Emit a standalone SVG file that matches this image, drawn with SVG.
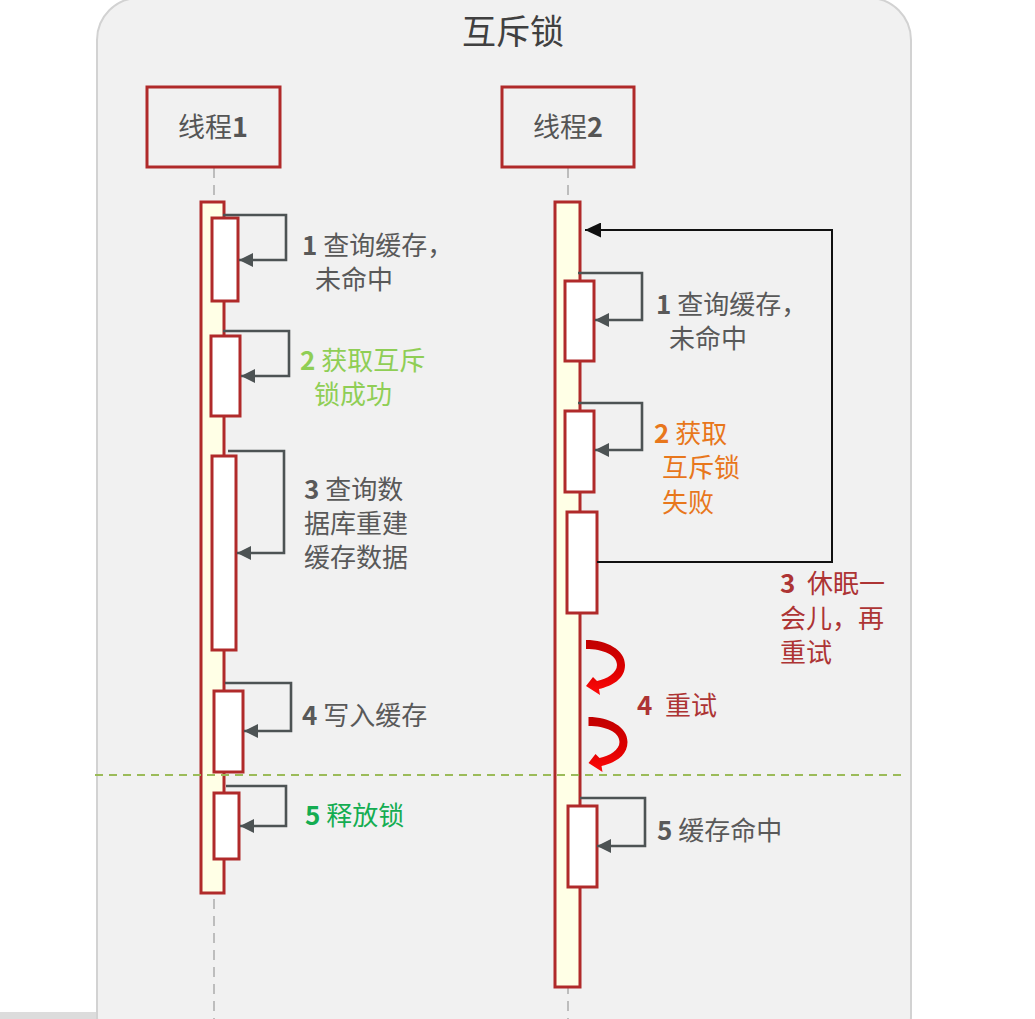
<svg xmlns="http://www.w3.org/2000/svg" width="1035" height="1019" viewBox="0 0 1035 1019">
<style>
text{font-family:"Noto Sans CJK SC","Noto Sans",sans-serif;font-size:26px;fill:#595959}
.d{font-weight:bold}
.title{font-size:34px;fill:#404040}
.name{font-size:27px;fill:#555}
.box{fill:#f1f1f1;stroke:#b02a2a;stroke-width:3}
.life{stroke:#bdbdbd;stroke-width:2;stroke-dasharray:10 7;fill:none}
.bar{fill:#ffffe6;stroke:#b02a2a;stroke-width:3}
.act{fill:#fff;stroke:#b02a2a;stroke-width:3}
.self{fill:none;stroke:#4d5354;stroke-width:2.6}
.ret{fill:none;stroke:#111;stroke-width:2}
.green1{fill:#8fce55}
.green2{fill:#14ad52}
.orange{fill:#e8771c}
.red{fill:#ad3434}
</style>
<defs>
<marker id="ah" viewBox="0 0 14 14" refX="14" refY="7" markerWidth="14" markerHeight="14" markerUnits="userSpaceOnUse" orient="auto">
<path d="M0,0 L14,7 L0,14 Z" fill="#4d5354"/>
</marker>
<marker id="ahb" viewBox="0 0 16 15" refX="16" refY="7.5" markerWidth="16" markerHeight="15" markerUnits="userSpaceOnUse" orient="auto">
<path d="M0,0 L16,7.5 L0,15 Z" fill="#111"/>
</marker>
<linearGradient id="rg" x1="0" y1="0" x2="0" y2="1">
<stop offset="0" stop-color="#c00000"/>
<stop offset="0.6" stop-color="#e00000"/>
<stop offset="1" stop-color="#ff0a0a"/>
</linearGradient>
<path id="curl" d="M586,640 C607,640 625,650 625,665 C625,679 612,686 599,689 L600,695 L586,686 L593,677 L597,681 C607,679 617,673 617,665 C617,655 603,649 586,649 Z" fill="url(#rg)"/>
</defs>

<g id="background">
<rect x="-10" y="1012" width="395" height="20" rx="8" fill="#dcdcdc"/>
<rect x="97" y="-2" width="814" height="1060" rx="42" fill="#f1f1f1" stroke="#d2d2d2" stroke-width="2"/>
<text class="title" x="513" y="44" text-anchor="middle">互斥锁</text>
</g>

<g id="lifelines">
<line class="life" x1="214" y1="168" x2="214" y2="1019"/>
<line class="life" x1="568" y1="168" x2="568" y2="1019"/>
</g>

<g id="thread1">
<rect class="box" x="147" y="87" width="133" height="80"/>
<text class="name" x="213" y="137" text-anchor="middle">线程<tspan class="d">1</tspan></text>
</g>
<g id="thread2">
<rect class="box" x="502" y="87" width="132" height="80"/>
<text class="name" x="568" y="137" text-anchor="middle">线程<tspan class="d">2</tspan></text>
</g>

<g id="bar1"><rect class="bar" x="201" y="202" width="23" height="691"/></g>
<g id="bar2"><rect class="bar" x="555" y="202" width="25" height="785"/></g>

<g id="divider">
<line x1="95" y1="775" x2="904" y2="775" stroke="#9bbb59" stroke-width="2" stroke-dasharray="8 6"/>
</g>

<g id="t1-step1">
<rect class="act" x="212" y="218" width="26" height="83"/>
<text x="302" y="254.5"><tspan class="d">1</tspan> 查询缓存，<tspan x="315" dy="34">未命中</tspan></text>
</g>
<g id="t1-step2">
<rect class="act" x="211" y="336" width="29" height="80"/>
<text class="green1" x="300" y="369.5"><tspan class="d">2</tspan> 获取互斥<tspan x="314" dy="34">锁成功</tspan></text>
</g>
<g id="t1-step3">
<rect class="act" x="212" y="456" width="24" height="194"/>
<text x="304" y="499"><tspan class="d">3</tspan> 查询数<tspan x="304" dy="34">据库重建</tspan><tspan x="304" dy="34">缓存数据</tspan></text>
</g>
<g id="t1-step4">
<rect class="act" x="214" y="691" width="29" height="81"/>
<text x="302" y="725"><tspan class="d">4</tspan> 写入缓存</text>
</g>
<g id="t1-step5">
<rect class="act" x="214" y="793" width="25" height="66"/>
<text class="green2" x="305" y="825"><tspan class="d">5</tspan> 释放锁</text>
</g>

<g id="t2-step1">
<rect class="act" x="565" y="281" width="29" height="80"/>
<text x="656" y="313.5"><tspan class="d">1</tspan> 查询缓存，<tspan x="669" dy="34">未命中</tspan></text>
</g>
<g id="t2-step2">
<rect class="act" x="565" y="411" width="29" height="81"/>
<text class="orange" x="654" y="443"><tspan class="d">2</tspan> 获取<tspan x="662" dy="34">互斥锁</tspan><tspan x="662" dy="35">失败</tspan></text>
</g>
<g id="t2-step3">
<rect class="act" x="567" y="512" width="30" height="101"/>
<text class="red" x="780" y="593"><tspan class="d">3</tspan><tspan x="807">休眠一</tspan><tspan x="780" dy="35">会儿，再</tspan><tspan x="780" dy="34">重试</tspan></text>
</g>
<g id="t2-step4">
<text class="red" x="637" y="715"><tspan class="d">4</tspan><tspan x="665">重试</tspan></text>
</g>
<g id="t2-step5">
<rect class="act" x="568" y="806" width="29" height="81"/>
<text x="657" y="840"><tspan class="d">5</tspan> 缓存命中</text>
</g>

<g id="connectors">
<path class="self" d="M223,215 H286 V260 H239" marker-end="url(#ah)"/>
<path class="self" d="M223,331 H289 V376 H241" marker-end="url(#ah)"/>
<path class="self" d="M228,451 H284 V553 H237" marker-end="url(#ah)"/>
<path class="self" d="M225,683 H291 V731 H244" marker-end="url(#ah)"/>
<path class="self" d="M226,786 H286 V826 H240" marker-end="url(#ah)"/>
<path class="self" d="M578,273 H642 V320 H595" marker-end="url(#ah)"/>
<path class="self" d="M578,403 H642 V450 H595" marker-end="url(#ah)"/>
<path class="self" d="M580,798 H645 V846 H597" marker-end="url(#ah)"/>
<path class="ret" d="M597,562 H832 V230 H585" marker-end="url(#ahb)"/>
<use href="#curl"/>
<use href="#curl" transform="translate(2.5,77)"/>
</g>
</svg>
